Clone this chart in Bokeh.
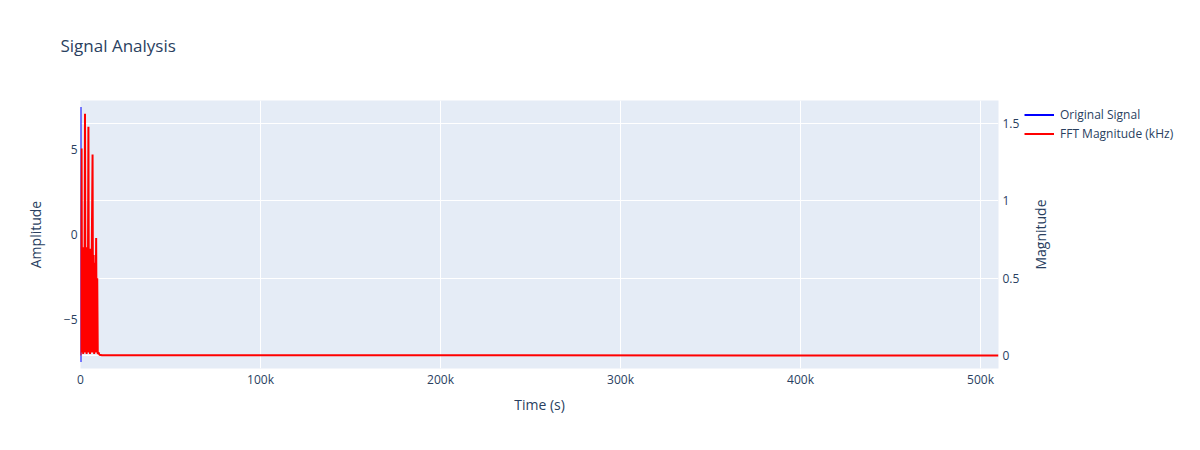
import math
from bokeh.plotting import figure
from bokeh.layouts import row
from bokeh.models import (Range1d, LinearAxis, Legend, LegendItem, Title, Label, FixedTicker,
                          CustomJSTickFormatter, Grid, NumeralTickFormatter)
from bokeh.embed import file_html
from bokeh.resources import INLINE

# ---- data ----
signal_time = [0.0, 0.1, 0.2, 0.3, 0.4, 0.5, 0.6, 0.7, 0.8, 0.9, 1.0]
signal_amp = [0.0, 5.1, -3.2, 7.5, -7.5, 2.4, 6.0, -6.2, 4.0, -2.5, 0.0]

fft_freq = [0, 300, 600, 900, 1200, 1500, 1800, 2100, 2500, 2800, 3100, 3400, 3700, 4000,
            4400, 4700, 5000, 5300, 5600, 5900, 6200, 6700, 7000, 7300, 7600, 7900, 8200,
            8700, 9000, 9300, 9600, 10000, 10500, 12000, 510000]
fft_mag = [0.0, 0.9, 1.34, 0.02, 0.65, 0.01, 0.7, 0.02, 1.565, 0.02, 0.68, 0.01, 0.7, 0.02,
           1.48, 0.02, 0.66, 0.01, 0.69, 0.02, 0.6, 1.30, 0.02, 0.65, 0.01, 0.6, 0.02,
           0.76, 0.02, 0.5, 0.01, 0.02, 0.005, 0.002, 0.0]

x_ticks = [0, 100000, 200000, 300000, 400000, 500000]
amp_ticks = [-5, 0, 5]
mag_ticks = [0, 0.5, 1, 1.5]

FONT = "Open Sans"
TXT = "#2a3f5f"

p = figure(width=1022, height=440, output_backend="svg", toolbar_location=None,
           x_range=Range1d(0, 510000), y_range=Range1d(-7.88, 7.88),
           min_border_left=80, min_border_right=24, min_border_top=100, min_border_bottom=72,
           background_fill_color="#E5ECF6", border_fill_color="white", outline_line_color=None,
           title=None)
p.extra_y_ranges = {"mag": Range1d(-0.084, 1.65)}

minus_fmt = CustomJSTickFormatter(code="return String(tick).replace('-', '\\u2212');")


def style_axis(ax):
    ax.axis_line_color = None
    ax.major_tick_line_color = None
    ax.minor_tick_line_color = None
    ax.major_tick_out = 0
    ax.minor_tick_out = 0
    ax.major_label_text_color = TXT
    ax.major_label_text_font = FONT
    ax.major_label_text_font_size = "12px"
    ax.axis_label_text_color = TXT
    ax.axis_label_text_font = FONT
    ax.axis_label_text_font_size = "14px"
    ax.axis_label_text_font_style = "normal"


xa = p.xaxis[0]
style_axis(xa)
xa.ticker = FixedTicker(ticks=x_ticks)
xa.formatter = NumeralTickFormatter(format="0a")
xa.axis_label = "Time (s)"
xa.major_label_standoff = 2
xa.axis_label_standoff = 4

ya = p.yaxis[0]
style_axis(ya)
ya.ticker = FixedTicker(ticks=amp_ticks)
ya.formatter = minus_fmt
ya.axis_label = "Amplitude"
ya.major_label_standoff = 3
ya.axis_label_standoff = 16

ra = LinearAxis(y_range_name="mag", ticker=FixedTicker(ticks=mag_ticks),
                formatter=CustomJSTickFormatter(code="return String(tick);"))
style_axis(ra)
ra.major_label_standoff = 4
p.add_layout(ra, "right")

p.xgrid.ticker = FixedTicker(ticks=x_ticks)
p.xgrid.grid_line_color = "white"
p.xgrid.grid_line_width = 1
p.ygrid.visible = False
p.add_layout(Grid(dimension=1, y_range_name="mag", ticker=FixedTicker(ticks=mag_ticks),
                  grid_line_color="white", grid_line_width=1))

r1 = p.line(signal_time, signal_amp, line_color="blue", line_width=2)
r2 = p.line(fft_freq, fft_mag, line_color="red", line_width=2, y_range_name="mag")

# spacer panel (nearest the frame) so that the title sits higher
p.add_layout(Title(text=" ", text_font_size="17px", standoff=23), "above")
p.add_layout(Title(text="Signal Analysis", align="left", offset=-20, standoff=0,
                   vertical_align="bottom",
                   text_font=FONT, text_font_size="17px", text_color=TXT,
                   text_font_style="normal"), "above")

# ---- side panel: legend + secondary axis title ----
side = figure(width=168, height=440, output_backend="svg", toolbar_location=None,
              x_range=Range1d(0, 1), y_range=Range1d(0, 1),
              x_axis_type=None, y_axis_type=None,
              min_border_left=0, min_border_right=0, min_border_top=0, min_border_bottom=0,
              background_fill_color="white", border_fill_color="white",
              outline_line_color=None, title=None)
side.grid.visible = False
# legend proxies (no visible data)
k1 = side.line([math.nan, math.nan], [math.nan, math.nan], line_color="blue", line_width=2)
k2 = side.line([math.nan, math.nan], [math.nan, math.nan], line_color="red", line_width=2)

legend = Legend(items=[LegendItem(label="Original Signal", renderers=[k1]),
                       LegendItem(label="FFT Magnitude (kHz)", renderers=[k2])],
                location=(2, 225), orientation="vertical",
                background_fill_alpha=0, border_line_color=None,
                padding=0, margin=0, spacing=0,
                glyph_width=30, glyph_height=19, label_height=19, label_standoff=6,
                label_text_font=FONT, label_text_font_size="12px", label_text_color=TXT)
side.add_layout(legend)

side.add_layout(Label(x=18, y=134, x_units="screen", y_units="screen", text="Magnitude",
                      angle=math.pi / 2, text_align="center", text_baseline="middle",
                      text_font=FONT, text_font_size="14px", text_color=TXT))

layout = row(p, side)
open("out.html", "w").write(file_html(layout, INLINE))
